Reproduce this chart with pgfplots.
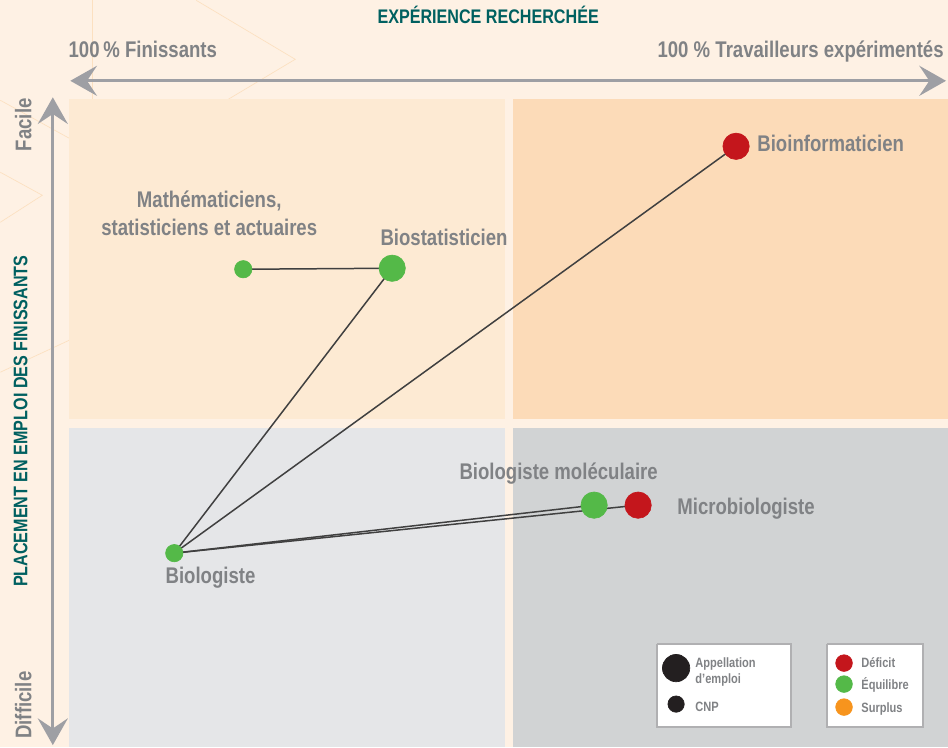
\documentclass[border=0pt]{standalone}
\usepackage{fontspec}
\setmainfont{Liberation Sans}[FakeStretch=0.82]
\usepackage{pgfplots}
\pgfplotsset{compat=1.18}
\usetikzlibrary{arrows.meta}

\definecolor{bgpeach}{RGB}{254,241,228}
\definecolor{qtl}{RGB}{253,234,211}
\definecolor{qtr}{RGB}{252,219,184}
\definecolor{qbl}{RGB}{229,230,232}
\definecolor{qbr}{RGB}{209,211,212}
\definecolor{deco}{RGB}{252,224,192}
\definecolor{txtgray}{RGB}{128,130,133}
\definecolor{arrgray}{RGB}{158,159,164}
\definecolor{tealdark}{RGB}{0,96,96}
\definecolor{linkgray}{RGB}{64,64,64}
\definecolor{deficit}{RGB}{196,22,28}
\definecolor{equilibre}{RGB}{84,185,72}
\definecolor{surplus}{RGB}{247,148,29}
\definecolor{legborder}{RGB}{176,176,178}
\definecolor{cnpblack}{RGB}{35,31,32}

\newcommand\lblfont{\fontsize{13.6}{16.8}\selectfont\bfseries}
\newcommand\ttlfont{\fontsize{11.8}{13}\selectfont\bfseries}
\newcommand\legfont{\fontsize{8.1}{9}\selectfont\bfseries}

\begin{document}
\begin{tikzpicture}
\begin{axis}[width=568.8pt,height=448.2pt,scale only axis,
  xmin=0,xmax=948,ymin=0,ymax=747,y dir=reverse,
  hide axis,clip=false]

% background and the four quadrants
\addplot[fill=bgpeach,draw=none] coordinates {(0,0)(948,0)(948,747)(0,747)};
\addplot[deco,thin] coordinates {(92,0)(92,99)};
\addplot[deco,thin] coordinates {(196,0)(295,59)(228,99)};
\addplot[deco,thin] coordinates {(0,100)(69,138)};
\addplot[deco,thin] coordinates {(0,172)(42,195)(0,222)};
\addplot[deco,thin] coordinates {(0,372)(69,340)};
\addplot[fill=qtl,draw=none] coordinates {(69,99)(505,99)(505,419)(69,419)};
\addplot[fill=qtr,draw=none] coordinates {(513,99)(948,99)(948,419)(513,419)};
\addplot[fill=qbl,draw=none] coordinates {(69,428)(505,428)(505,747)(69,747)};
\addplot[fill=qbr,draw=none] coordinates {(513,428)(948,428)(948,747)(513,747)};

% links between occupations
\addplot[linkgray,line width=0.9pt] coordinates {(243,269)(392,268)};
\addplot[linkgray,line width=0.9pt] coordinates {(174,553)(392,268)};
\addplot[linkgray,line width=0.9pt] coordinates {(174,553)(736,146)};
\addplot[linkgray,line width=0.9pt] coordinates {(174,553)(594,505)};
\addplot[linkgray,line width=0.9pt] coordinates {(174,553)(638,505)};

% occupations (appellations: large, CNP: small)
\addplot[deficit,only marks,mark=*,mark size=7.9pt]
  coordinates {(736,146)(638,505)};
\addplot[equilibre,only marks,mark=*,mark size=7.9pt]
  coordinates {(392,268)(594,505)};
\addplot[equilibre,only marks,mark=*,mark size=5.2pt]
  coordinates {(243,269)(174,553)};

% legend boxes and markers
\addplot[fill=white,draw=legborder,line width=1.1pt]
  coordinates {(657,644)(791,644)(791,727)(657,727)(657,644)};
\addplot[fill=white,draw=legborder,line width=1.1pt]
  coordinates {(827,644)(923,644)(923,727)(827,727)(827,644)};
\addplot[cnpblack,only marks,mark=*,mark size=8.2pt] coordinates {(676,668)};
\addplot[cnpblack,only marks,mark=*,mark size=4.9pt] coordinates {(676,704)};
\addplot[deficit,only marks,mark=*,mark size=5pt] coordinates {(844,663)};
\addplot[equilibre,only marks,mark=*,mark size=5pt] coordinates {(844,684)};
\addplot[surplus,only marks,mark=*,mark size=5pt] coordinates {(844,707)};

% axis arrows
\draw[arrgray,line width=1.8pt,
  {Stealth[length=16pt,width=18pt,inset=6pt]}-{Stealth[length=16pt,width=18pt,inset=6pt]}]
  (axis cs:70,80.5) -- (axis cs:946,80.5);
\draw[arrgray,line width=1.8pt,
  {Stealth[length=16pt,width=18pt,inset=6pt]}-{Stealth[length=16pt,width=18pt,inset=6pt]}]
  (axis cs:52.5,97) -- (axis cs:52.5,745);

% labels
\begin{scope}[every node/.style={text=txtgray,inner sep=0pt}]
\node[anchor=base west] at (axis cs:757,151) {\lblfont Bioinformaticien};
\node[anchor=base west] at (axis cs:380,245) {\lblfont Biostatisticien};
\node[anchor=base west] at (axis cs:459,479) {\lblfont Biologiste moléculaire};
\node[anchor=base west] at (axis cs:677,514) {\lblfont Microbiologiste};
\node[anchor=base west] at (axis cs:165,583) {\lblfont Biologiste};
\node[anchor=base,align=center,font=\lblfont] at (axis cs:209,235)
  {Mathématiciens,\\statisticiens et actuaires};
\node[anchor=base west] at (axis cs:68,57) {\lblfont 100\,\% Finissants};
\node[anchor=base east] at (axis cs:944,57) {\lblfont 100 \% Travailleurs expérimentés};
\node[anchor=base,rotate=90] at (axis cs:31,124.5) {\lblfont Facile};
\node[anchor=base,rotate=90] at (axis cs:31,705) {\lblfont Difficile};
\node[anchor=base,text=tealdark] at (axis cs:488,23) {\ttlfont EXPÉRIENCE RECHERCHÉE};
\node[anchor=base,rotate=90,text=tealdark]
  at (axis cs:27,421) {\ttlfont PLACEMENT EN EMPLOI DES FINISSANTS};
\end{scope}

\begin{scope}[every node/.style={text=txtgray,inner sep=0pt,anchor=base west}]
\node at (axis cs:695,667) {\legfont Appellation};
\node at (axis cs:695,683) {\legfont d'emploi};
\node at (axis cs:695,711) {\legfont CNP};
\node at (axis cs:861,667) {\legfont Déficit};
\node at (axis cs:861,689) {\legfont Équilibre};
\node at (axis cs:861,712) {\legfont Surplus};
\end{scope}
\end{axis}
\end{tikzpicture}
\end{document}
